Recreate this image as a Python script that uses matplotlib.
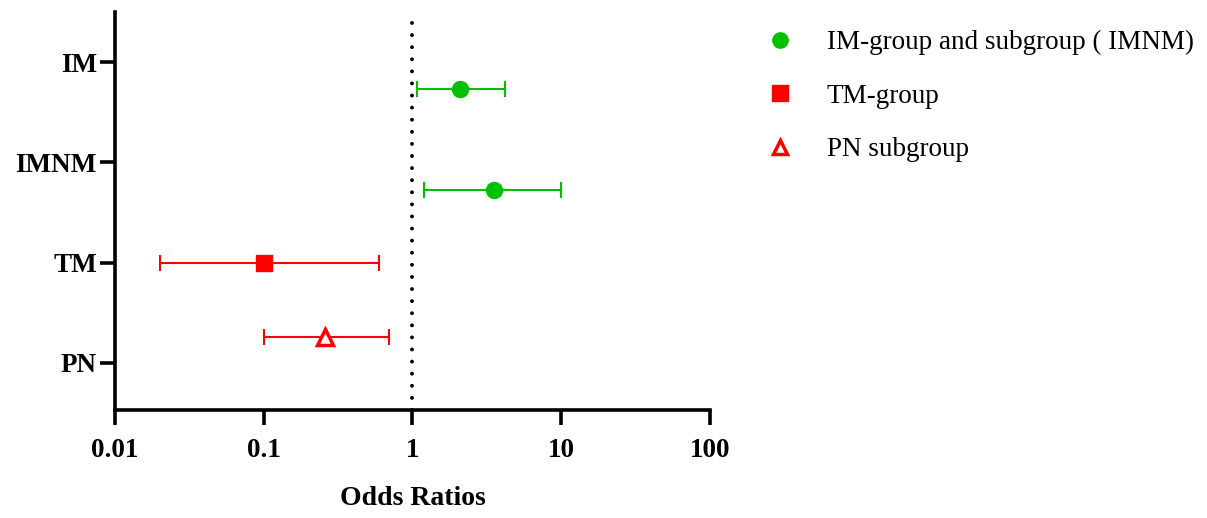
import matplotlib.pyplot as plt
from matplotlib.lines import Line2D

# odds ratios with 95% CI
groups = ["IM", "IMNM", "TM", "PN"]
tick_pos = [4, 3, 2, 1]
point_pos = [3.73, 2.72, 2.0, 1.26]
odds = [2.1, 3.55, 0.1, 0.26]
ci_low = [1.08, 1.2, 0.02, 0.1]
ci_high = [4.2, 10.0, 0.6, 0.7]

green = "#00c000"
red = "#ff0000"

plt.rcParams["font.family"] = ["Liberation Serif", "DejaVu Serif"]

fig = plt.figure(figsize=(12.07, 5.18), dpi=100)
ax = fig.add_axes([0.0953, 0.2085, 0.4929, 0.7685])

ax.axvline(1, color="black", lw=2.8, linestyle=(0, (0.01, 3.1)),
           dash_capstyle="round", zorder=1)

markers = ["o", "o", "s", "^"]
colors = [green, green, red, red]
faces = [green, green, red, "white"]
for y, o, lo, hi, m, c, fc in zip(point_pos, odds, ci_low, ci_high,
                                  markers, colors, faces):
    ax.errorbar(o, y, xerr=[[o - lo], [hi - o]], fmt="none", ecolor=c,
                elinewidth=1.5, capsize=5.5, capthick=1.5, zorder=2)
    ax.plot(o, y, marker=m, ls="", ms=11.5 if m != "^" else 11,
            mfc=fc, mec=c, mew=2.5 if fc == "white" else 1, zorder=3)

ax.set_xscale("log")
ax.set_xlim(0.01, 100)
ax.set_ylim(0.53, 4.5)
ax.set_xticks([0.01, 0.1, 1, 10, 100])
ax.set_xticklabels(["0.01", "0.1", "1", "10", "100"])
ax.minorticks_off()
ax.set_yticks(tick_pos)
ax.set_yticklabels(groups)

for lbl in ax.get_xticklabels() + ax.get_yticklabels():
    lbl.set_fontweight("bold")
    lbl.set_fontsize(19.5)
ax.tick_params(width=2.6, length=10.5)
ax.tick_params(axis="x", pad=10)
ax.tick_params(axis="y", pad=2.5)

for side in ["top", "right"]:
    ax.spines[side].set_visible(False)
for side in ["left", "bottom"]:
    ax.spines[side].set_linewidth(2.6)

ax.set_xlabel("Odds Ratios", fontsize=20, fontweight="bold", labelpad=16)

handles = [
    Line2D([], [], ls="", marker="o", color=green, ms=11),
    Line2D([], [], ls="", marker="s", color=red, ms=11),
    Line2D([], [], ls="", marker="^", mfc="white", mec=red, mew=2.5, ms=10),
]
labels = ["IM-group and subgroup ( IMNM)", "TM-group", "PN subgroup"]
fig.legend(handles, labels, loc="upper left", bbox_to_anchor=(0.604, 0.989),
           frameon=False, fontsize=19.5, labelspacing=1.05,
           handletextpad=0.7)

fig.savefig("out.png", dpi=100)
